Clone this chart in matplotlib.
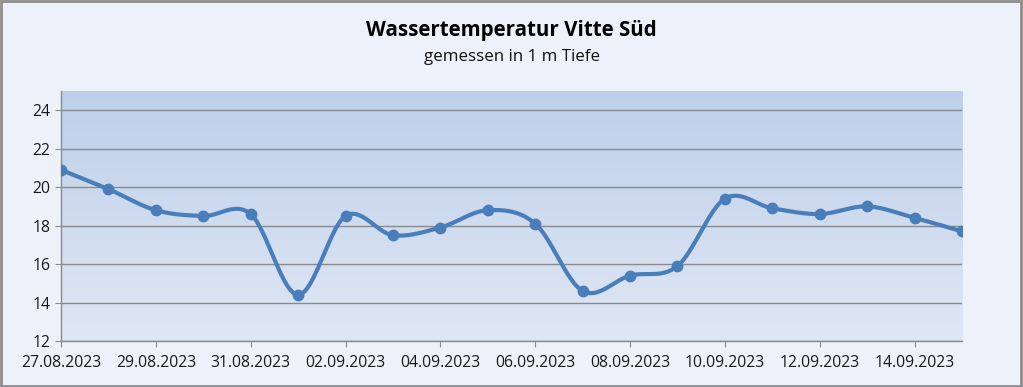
import numpy as np
import matplotlib
matplotlib.use("Agg")
import matplotlib.pyplot as plt
from matplotlib.patches import Rectangle
from matplotlib.colors import LinearSegmentedColormap

# ── data ─────────────────────────────────────────────
dates = ["27.08.2023", "28.08.2023", "29.08.2023", "30.08.2023", "31.08.2023",
         "01.09.2023", "02.09.2023", "03.09.2023", "04.09.2023", "05.09.2023",
         "06.09.2023", "07.09.2023", "08.09.2023", "09.09.2023", "10.09.2023",
         "11.09.2023", "12.09.2023", "13.09.2023", "14.09.2023", "15.09.2023"]
temps = [20.9, 19.9, 18.8, 18.5, 18.6, 14.4, 18.5, 17.5, 17.9, 18.8,
         18.1, 14.6, 15.4, 15.9, 19.4, 18.9, 18.6, 19.0, 18.4, 17.7]

TITLE = "Wassertemperatur Vitte Süd"
SUBTITLE = "gemessen in 1 m Tiefe"

# ── colours ──────────────────────────────────────────
BG = "#EDF1F9"
LINE = "#4A7EBB"
GRID = "#8A8A8A"
TOP = "#BDCFEA"
BOTTOM = "#E0E7F4"

plt.rcParams["font.family"] = ["Open Sans", "DejaVu Sans"]


def smooth(x, y, n=30):
    # Excel-like smoothed line (Catmull-Rom / Bezier with 1/6 tangents)
    x = np.asarray(x, float)
    y = np.asarray(y, float)
    px = np.concatenate([[x[0]], x, [x[-1]]])
    py = np.concatenate([[y[0]], y, [y[-1]]])
    xs, ys = [], []
    t = np.linspace(0, 1, n)
    for i in range(1, len(px) - 2):
        p0 = np.array([px[i], py[i]])
        p3 = np.array([px[i + 1], py[i + 1]])
        p1 = p0 + (np.array([px[i + 1], py[i + 1]]) - np.array([px[i - 1], py[i - 1]])) / 6
        p2 = p3 - (np.array([px[i + 2], py[i + 2]]) - np.array([px[i], py[i]])) / 6
        b = ((1 - t) ** 3)[:, None] * p0 + (3 * (1 - t) ** 2 * t)[:, None] * p1 \
            + (3 * (1 - t) * t ** 2)[:, None] * p2 + (t ** 3)[:, None] * p3
        xs.append(b[:, 0])
        ys.append(b[:, 1])
    return np.concatenate(xs), np.concatenate(ys)


fig = plt.figure(figsize=(10.23, 3.87), dpi=100, facecolor=BG)
fig.patches.append(Rectangle((0.001, 0.002), 0.997, 0.995, transform=fig.transFigure,
                             fill=False, edgecolor="#8E8E8E", linewidth=2))

ax = fig.add_axes([0.0596, 0.1189, 0.8808, 0.646])
ax.set_facecolor("none")

x = np.arange(len(dates))
ymin, ymax = 12, 25
ax.set_xlim(0, len(dates) - 1)
ax.set_ylim(ymin, ymax)

# gradient plot area
cmap = LinearSegmentedColormap.from_list("bg", [BOTTOM, TOP])
grad = np.linspace(0, 1, 256).reshape(-1, 1)
ax.imshow(grad, cmap=cmap, aspect="auto", origin="lower",
          extent=[0, len(dates) - 1, ymin, ymax], zorder=0)

ax.set_yticks(range(12, 25, 2))
ax.grid(axis="y", color=GRID, linewidth=1.0, zorder=1)
ax.set_axisbelow(False)

sx, sy = smooth(x, temps)
ax.plot(sx, sy, color=LINE, linewidth=3.0, zorder=3, solid_capstyle="round")
ax.plot(x, temps, "o", color=LINE, markersize=7.5, zorder=4)

ax.set_xticks(x[::2])
ax.set_xticklabels(dates[::2])
ax.tick_params(axis="both", labelsize=11.3, colors="#1A1A1A", length=4, color=GRID)
ax.tick_params(axis="x", pad=6)

for s in ["top", "right"]:
    ax.spines[s].set_visible(False)
for s in ["left", "bottom"]:
    ax.spines[s].set_color(GRID)
    ax.spines[s].set_linewidth(1.0)

fig.text(0.5, 0.922, TITLE, ha="center", va="center", fontsize=14.8,
         fontweight="bold", color="#000000")
fig.text(0.5, 0.853, SUBTITLE, ha="center", va="center", fontsize=12.2, color="#111111")

fig.savefig("out.png", dpi=100, facecolor=BG)
